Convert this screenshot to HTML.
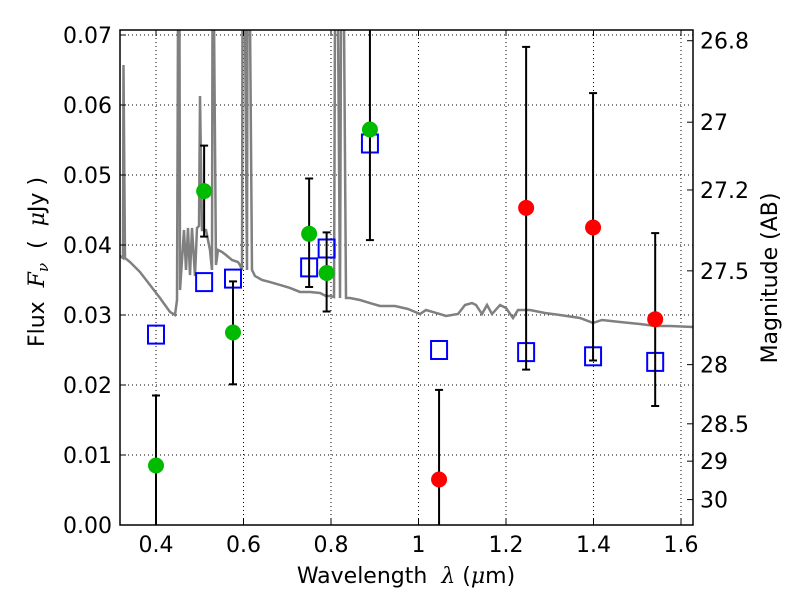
<!DOCTYPE html>
<html><head><meta charset="utf-8"><style>
body{margin:0;background:#fff}
svg text{font-family:"DejaVu Sans","Liberation Sans",sans-serif;fill:#000;white-space:pre}
</style></head><body>
<svg id="chart" width="800" height="600">
<g id="grid"></g>
<g id="spec"></g>
<g id="marks"></g>
<g id="axes"></g>
</svg>
<script>
const xTicks=[0.4,0.6,0.8,1.0,1.2,1.4,1.6];
const xTickLabels=["0.4","0.6","0.8","1","1.2","1.4","1.6"];
const yTicks=[0,0.01,0.02,0.03,0.04,0.05,0.06,0.07];
const yTickLabels=["0.00","0.01","0.02","0.03","0.04","0.05","0.06","0.07"];
const magTicks=[26.8,27,27.2,27.5,28,28.5,29,30];
const magTickLabels=["26.8","27","27.2","27.5","28","28.5","29","30"];
const greenWave=[0.40,0.51,0.576,0.75,0.79,0.889];
const greenFlux=[0.0085,0.0477,0.0275,0.0416,0.036,0.0565];
const greenLo=[0,0.0412,0.0201,0.034,0.0305,0.0407];
const greenHi=[0.0185,0.0542,0.0348,0.0495,0.0418,0.08];
const redWave=[1.047,1.246,1.399,1.541];
const redFlux=[0.0065,0.0453,0.0425,0.0294];
const redLo=[0,0.0222,0.0235,0.017];
const redHi=[0.0193,0.0683,0.0617,0.0417];
const modelWave=[0.40,0.51,0.576,0.75,0.79,0.889,1.047,1.246,1.399,1.541];
const modelFlux=[0.0272,0.0347,0.0352,0.0368,0.0395,0.0545,0.025,0.0247,0.0241,0.0233];
const specPx=[[120,256],[123,258],[123.5,65],[125,258],[130,262],[140,272],[150,285],[160,298],[170,312],[175,315],[177,300],[178,20],[179.5,20],[180,290],[184,230],[186,270],[188,228],[190,275],[192,228],[195,276],[197,228],[199,226],[200,96],[202,230],[206,230],[210,250],[212,270],[212.5,20],[214,20],[216,265],[218,250],[222,252],[226,255],[232,260],[238,262],[240,265],[242,270],[242.5,20],[245,20],[247,270],[247.5,20],[250,20],[252,270],[255,276],[262,280],[270,282],[280,285],[290,288],[300,292],[310,292],[320,293],[326,296],[330,296],[334,297],[335,20],[338,20],[340,298],[341,20],[344,20],[346,298],[350,298],[360,300],[370,303],[380,306],[395,306],[408,309],[420,314],[426,310],[440,314],[446,316],[458,314],[465,305],[472,303],[476,305],[482,314],[487,305],[492,314],[500,305],[506,308],[513,318],[518,310],[530,310],[545,313],[560,315],[580,318],[593,323],[602,320],[620,322],[640,324],[655,326],[670,326],[693,327]];
const specWave=specPx.map(p=>+(0.4+(p[0]-156)/437.5).toFixed(4));
const specFlux=specPx.map(p=>+((525-p[1])/7000).toFixed(5));

const L=120,R=693,T=30,B=525;
const X0=0.4-36/437.5, X1=0.4+(693-156)/437.5, Y0=0, Y1=(525-30)/7000;
const sx=v=>L+(v-X0)/(X1-X0)*(R-L);
const sy=v=>B-(v-Y0)/(Y1-Y0)*(B-T);
const magY=m=>sy(Math.pow(10,(23.9-m)/2.5));
const NS="http://www.w3.org/2000/svg";
function mk(parent,tag,attrs){const e=document.createElementNS(NS,tag);for(const k in attrs)e.setAttribute(k,attrs[k]);document.getElementById(parent).appendChild(e);return e;}

xTicks.forEach(v=>{const e=mk('grid','line',{x1:sx(v),x2:sx(v),y1:T,y2:B,stroke:'#000','stroke-width':1,'stroke-dasharray':'1,3'});

});
yTicks.forEach(v=>{const e=mk('grid','line',{x1:L,x2:R,y1:sy(v),y2:sy(v),stroke:'#000','stroke-width':1,'stroke-dasharray':'1,3'});

});

const cp=mk('spec','clipPath',{id:'clip'});cp.innerHTML='<rect x="120" y="30" width="573" height="495"/>';
const sp=mk('spec','polyline',{points:specWave.map((w,i)=>sx(w)+','+sy(specFlux[i])).join(' '),fill:'none',stroke:'#808080','stroke-width':2.5,'clip-path':'url(#clip)'});



function errbar(w,lo,hi,name){
  const x=sx(w),y1=Math.max(sy(hi),T),y2=Math.min(sy(lo),B);
  const g=mk('marks','line',{x1:x,x2:x,y1:y1,y2:y2,stroke:'#000','stroke-width':2});
  
  
  [hi,lo].forEach(v=>{const y=sy(v);if(y>T&&y<B){const c=mk('marks','line',{x1:x-4,x2:x+4,y1:y,y2:y,stroke:'#000','stroke-width':2});
  
  }});
}
modelWave.forEach((w,i)=>{const r=mk('marks','rect',{x:sx(w)-8,y:sy(modelFlux[i])-9,width:16,height:18,fill:'none',stroke:'#0000ff','stroke-width':2});

});
greenWave.forEach((w,i)=>errbar(w,greenLo[i],greenHi[i],'green-error-bar'));
redWave.forEach((w,i)=>errbar(w,redLo[i],redHi[i],'red-error-bar'));
greenWave.forEach((w,i)=>{const c=mk('marks','circle',{cx:sx(w),cy:sy(greenFlux[i]),r:8,fill:'#00bb00'});

});
redWave.forEach((w,i)=>{const c=mk('marks','circle',{cx:sx(w),cy:sy(redFlux[i]),r:8,fill:'#ff0000'});

});

const fr=mk('axes','rect',{x:L,y:T,width:R-L,height:B-T,fill:'none',stroke:'#000','stroke-width':1.5});


xTicks.forEach((v,i)=>{
  mk('axes','line',{x1:sx(v),x2:sx(v),y1:B,y2:B-6,stroke:'#000'});
  mk('axes','line',{x1:sx(v),x2:sx(v),y1:T,y2:T+6,stroke:'#000'});
  const t=mk('axes','text',{x:sx(v),y:B+27,'text-anchor':'middle','font-size':22});t.textContent=xTickLabels[i];
  
  
});
yTicks.forEach((v,i)=>{
  mk('axes','line',{x1:L,x2:L+6,y1:sy(v),y2:sy(v),stroke:'#000'});
  const t=mk('axes','text',{x:L-8,y:sy(v)+8,'text-anchor':'end','font-size':22});t.textContent=yTickLabels[i];
  
  
});
magTicks.forEach((m,i)=>{
  const y=magY(m);
  mk('axes','line',{x1:R,x2:R-6,y1:y,y2:y,stroke:'#000'});
  const t=mk('axes','text',{x:R+7,y:y+8,'font-size':22});t.textContent=magTickLabels[i];
  
  
});
</script>
<svg width="800" height="600" style="position:absolute;left:0;top:0">
<text x="406" y="583" text-anchor="middle" font-size="22">Wavelength  <tspan font-family="DejaVu Serif" font-style="italic">λ</tspan> (<tspan font-family="DejaVu Serif" font-style="italic">μ</tspan>m)</text>
<text transform="translate(44,262) rotate(-90)" text-anchor="middle" font-size="22">Flux  <tspan font-family="DejaVu Serif" font-style="italic">F</tspan><tspan font-family="DejaVu Serif" font-style="italic" font-size="15" dy="4">ν</tspan><tspan dy="-4">  (  </tspan><tspan font-family="DejaVu Serif" font-style="italic">μ</tspan>Jy )</text>
<text transform="translate(777,278) rotate(-90)" text-anchor="middle" font-size="22">Magnitude (AB)</text>
</svg>
</body></html>
